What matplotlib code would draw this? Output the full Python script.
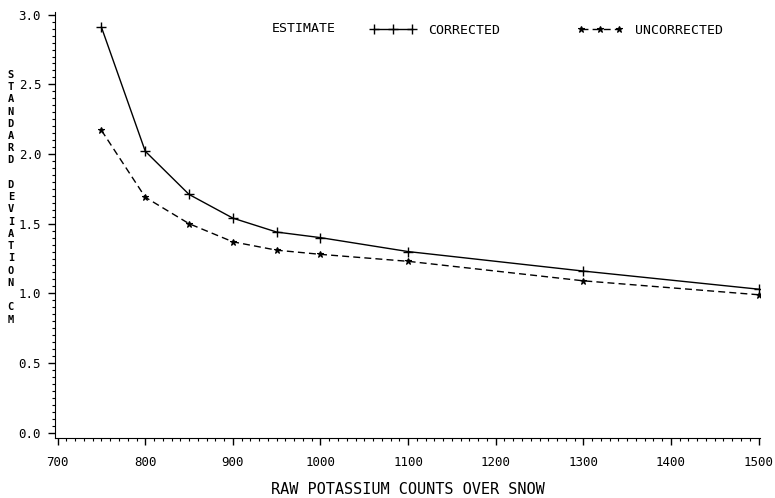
import numpy as np
import matplotlib
matplotlib.use("Agg")
import matplotlib.pyplot as plt
from matplotlib.ticker import MultipleLocator

plt.rcParams['font.family'] = ['DejaVu Sans Mono']

counts = [750, 800, 850, 900, 950, 1000, 1100, 1300, 1500]
corrected = [2.91, 2.02, 1.71, 1.54, 1.44, 1.40, 1.30, 1.16, 1.03]
uncorrected = [2.17, 1.69, 1.50, 1.37, 1.31, 1.28, 1.23, 1.09, 0.99]
xticks = [700, 800, 900, 1000, 1100, 1200, 1300, 1400, 1500]
yticks = [0.0, 0.5, 1.0, 1.5, 2.0, 2.5, 3.0]

fig = plt.figure(figsize=(7.75, 4.98), dpi=100)
ax = fig.add_axes([0.071, 0.120, 0.910, 0.856])

ax.plot(counts, corrected, '-', color='black', lw=1.0, marker='+', ms=7, mew=1.0,
        label='CORRECTED')
ax.plot(counts, uncorrected, '--', color='black', lw=1.0, marker='*', ms=5, mew=0.8,
        dashes=(5, 3), label='UNCORRECTED')

ax.set_xlim(697, 1502)
ax.set_ylim(-0.04, 3.02)
ax.set_xticks(xticks)
ax.set_yticks(yticks)
ax.set_yticklabels(['%.1f' % v for v in yticks])
ax.xaxis.set_minor_locator(MultipleLocator(10))
ax.yaxis.set_minor_locator(MultipleLocator(0.05))
ax.tick_params(which='major', direction='out', length=5, width=1, labelsize=9)
ax.tick_params(axis='x', which='major', pad=8)
ax.tick_params(axis='y', which='major', pad=5)
ax.tick_params(which='minor', direction='out', length=2.5, width=0.8)
ax.spines['top'].set_visible(False)
ax.spines['right'].set_visible(False)

ax.set_xlabel('RAW POTASSIUM COUNTS OVER SNOW', fontsize=11, labelpad=9)

ylab = 'STANDARD DEVIATION CM'
fig.text(0.014, 0.604, '\n'.join(ylab), fontsize=7.5, fontweight='bold',
         ha='center', va='center', linespacing=1.28)

fig.text(0.351, 0.943, 'ESTIMATE', fontsize=9.5, va='center')
ax.legend(loc='upper left', bbox_to_anchor=(0.43, 1.0), ncol=2, frameon=False,
          numpoints=3, handlelength=3.5, columnspacing=5.8, handletextpad=0.9,
          fontsize=9.5)

fig.savefig('out.png', dpi=100)
